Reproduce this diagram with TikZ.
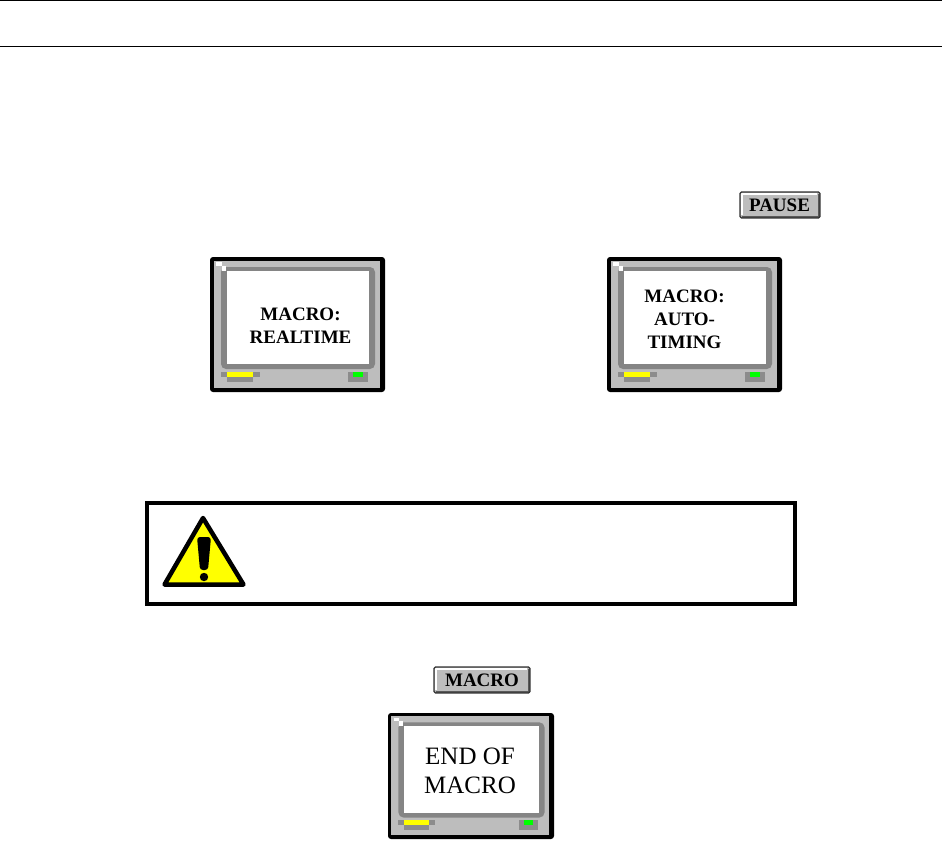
\documentclass[tikz,border=0pt]{standalone}
\usepackage{fontspec}
\setmainfont{Liberation Serif}
\definecolor{bodygrey}{HTML}{BDBDBD}
\definecolor{ringgrey}{HTML}{858585}
\definecolor{midgrey}{HTML}{8C8C8C}
\definecolor{hiliteY}{HTML}{FFFF00}
\definecolor{hiliteG}{HTML}{00FF00}
\tikzset{
  monlabel/.style={font=\bfseries\fontsize{19}{22}\selectfont,inner sep=0pt,text=black},
  endlabel/.style={font=\fontsize{25}{28}\selectfont,inner sep=0pt,text=black},
  btnlabel/.style={font=\bfseries\fontsize{19}{22}\selectfont,inner sep=0pt,text=black},
  rulef/.style={draw=black,line width=0.9pt}
}
% monitor drawn in a 175x135 local frame
\newcommand{\monitorshape}[4]{%
  \begin{scope}[shift={(#1,#2)},xscale=#3/175,yscale=#4/135]
    \fill[black,rounded corners=3] (0,0) rectangle (175,135);
    \fill[bodygrey] (3.5,3.5) rectangle (170,130.5);
    \fill[ringgrey,rounded corners=5] (11,10) rectangle (165,112);
    \fill[white] (17,14) rectangle (159,107);
    \fill[white] (6,5) rectangle (12,9);
    \fill[white] (12,9) rectangle (16,14);
    \fill[midgrey] (11,115) rectangle (50,120);
    \fill[midgrey] (17,120) rectangle (43,125);
    \fill[hiliteY] (17,115) rectangle (43,120);
    \fill[midgrey] (138,115) rectangle (158,125);
    \fill[hiliteG] (143,115) rectangle (153,120);
  \end{scope}}
\newcommand{\buttonshape}[4]{%
  \fill[bodygrey] (#1,#2) rectangle (#3,#4);
  \draw[white,line width=1.5pt] (#1+2,#4-3) -- (#1+2,#2+2) -- (#3-3,#2+2);
  \draw[black!65,line width=2pt] (#1+2,#4-1.5) -- (#3-1.5,#4-1.5) -- (#3-1.5,#2+2);
  \draw[black!80,line width=1.1pt,rounded corners=1.5] (#1,#2) rectangle (#3,#4);}
\begin{document}
\begin{tikzpicture}[x=1pt,y=-1pt]
\useasboundingbox (0,0) rectangle (942,841);
\fill[white] (0,0) rectangle (942,841);
% header rules
\coordinate (rtl) at (0,0.5);
\coordinate (rtr) at (942,0.5);
\coordinate (rbl) at (0,46.5);
\coordinate (rbr) at (942,46.5);
\draw[rulef] (rtl) -- (rtr);
\draw[rulef] (rbl) -- (rbr);
% PAUSE button
\buttonshape{740}{192}{820}{218}
\node[btnlabel] (pause) at (779.5,205) {PAUSE};
% monitors
\monitorshape{210}{257}{175}{135}
\node[monlabel,align=center] (m1) at (300.5,325.5) {MACRO:\\[1.5pt]REALTIME};
\monitorshape{607}{257}{175}{135}
\node[monlabel,align=center] (m2) at (684.5,319) {MACRO:\\[1pt]AUTO-\\[1pt]TIMING};
% warning box
\draw[black,line width=4pt] (147,503) rectangle (795,604);
\fill[hiliteY] (203,518) -- (164.5,584.5) -- (243.5,584.5) -- cycle;
\draw[black,line width=4.5pt,line join=round] (203,518) -- (164.5,584.5) -- (243.5,584.5) -- cycle;
\fill[black,rounded corners=3] (197,537) -- (211,537) -- (208,570) -- (200,570) -- cycle;
\fill[black] (204,577) circle (4.2);
% MACRO button
\buttonshape{434}{667}{530}{693}
\node[btnlabel] (mb) at (482,680) {MACRO};
% end monitor
\monitorshape{388}{713}{166}{126}
\node[endlabel,align=center] (m3) at (470,771) {END OF\\[1pt]MACRO};
\end{tikzpicture}
\end{document}
